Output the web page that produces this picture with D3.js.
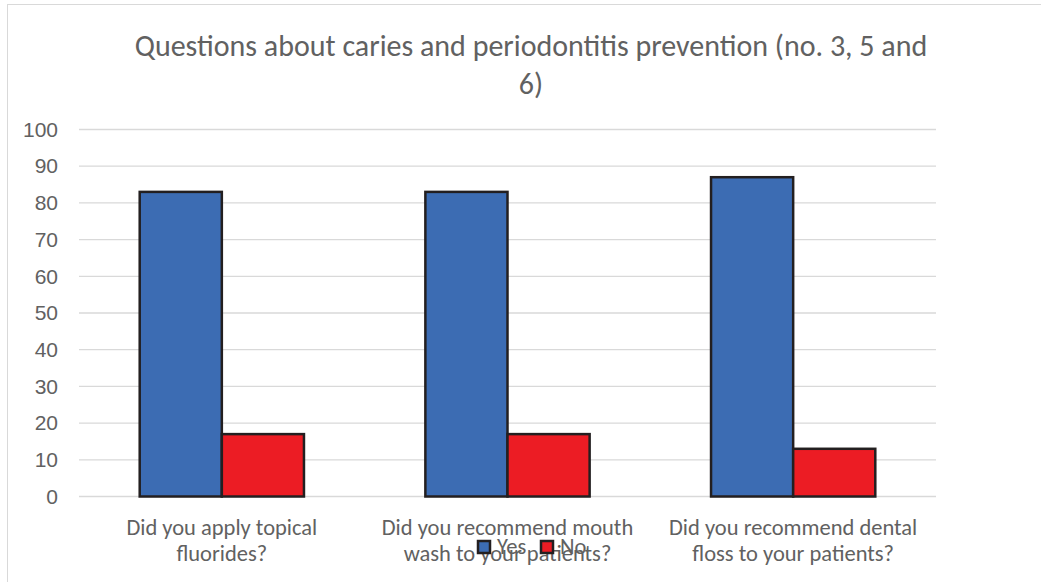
<!DOCTYPE html>
<html>
<head>
<meta charset="utf-8">
<script src="https://cdn.jsdelivr.net/npm/d3@7"></script>
<style>
  body { margin: 0; background: #fff; }
  svg { display: block; font-family: Carlito, Calibri, "Open Sans", sans-serif; }
</style>
</head>
<body>
<svg width="1041" height="582"></svg>
<script>
const categories = [
  ["Did you apply topical", "fluorides?"],
  ["Did you recommend mouth", "wash to your patients?"],
  ["Did you recommend dental", "floss to your patients?"]
];
const seriesNames = ["Yes", "No"];
const yesValues = [83, 83, 87];
const noValues = [17, 17, 13];
const yTicks = [0, 10, 20, 30, 40, 50, 60, 70, 80, 90, 100];
const titleLines = ["Questions about caries and periodontitis prevention (no. 3, 5 and", "6)"];

const colors = { Yes: "#3c6cb3", No: "#ec1c24" };
const textColor = "#616161";

const svg = d3.select("svg");
const width = +svg.attr("width");
const height = +svg.attr("height");

const margin = { top: 129.5, right: 105, bottom: 85.5, left: 79 };

// chart area border (right and bottom edges run off the picture)
svg.append("rect")
  .attr("x", 7.5).attr("y", 4.5)
  .attr("width", 1100).attr("height", 600)
  .attr("fill", "none")
  .attr("stroke", "#d9d9d9");

svg.append("text")
  .attr("text-anchor", "middle")
  .attr("fill", textColor)
  .attr("font-size", 30)
  .selectAll("tspan")
  .data(titleLines)
  .join("tspan")
    .attr("x", 531)
    .attr("y", (d, i) => 56 + i * 38)
    .text(d => d);

const x0 = d3.scaleBand()
  .domain(d3.range(categories.length))
  .range([margin.left, width - margin.right])
  .paddingInner(0.425)
  .paddingOuter(0.2125);

const x1 = d3.scaleBand()
  .domain(seriesNames)
  .range([0, x0.bandwidth()]);

const y = d3.scaleLinear()
  .domain([0, 100])
  .range([height - margin.bottom, margin.top]);

// gridlines
svg.append("g")
  .selectAll("line")
  .data(yTicks)
  .join("line")
    .attr("x1", margin.left)
    .attr("x2", width - margin.right)
    .attr("y1", d => y(d))
    .attr("y2", d => y(d))
    .attr("stroke", "#d9d9d9")
    .attr("stroke-width", 1.3);

const yAxis = svg.append("g")
  .attr("transform", `translate(${margin.left},0)`)
  .call(d3.axisLeft(y).tickValues(yTicks).tickSize(0).tickPadding(21));
yAxis.select(".domain").remove();
yAxis.selectAll("text")
  .attr("fill", textColor)
  .attr("font-size", 21)
  .attr("font-family", null);

const rows = categories.map((c, i) => ({ i, Yes: yesValues[i], No: noValues[i] }));

const groups = svg.append("g")
  .selectAll("g")
  .data(rows)
  .join("g")
    .attr("transform", d => `translate(${x0(d.i)},0)`);

groups.selectAll("rect")
  .data(d => seriesNames.map(k => ({ key: k, value: d[k] })))
  .join("rect")
    .attr("x", d => x1(d.key))
    .attr("y", d => y(d.value))
    .attr("width", x1.bandwidth())
    .attr("height", d => y(0) - y(d.value))
    .attr("fill", d => colors[d.key])
    .attr("stroke", "#231f20")
    .attr("stroke-width", 2.5);

// category labels
const catLabels = svg.append("g")
  .selectAll("text")
  .data(categories)
  .join("text")
    .attr("text-anchor", "middle")
    .attr("fill", textColor)
    .attr("font-size", 22.5);
catLabels.selectAll("tspan")
  .data((d, i) => d.map(line => ({ line, i })))
  .join("tspan")
    .attr("x", d => x0(d.i) + x0.bandwidth() / 2)
    .attr("y", (d, j) => 535 + j * 26)
    .text(d => d.line);

// legend (overlaps the middle label, as in the original)
const legend = svg.append("g")
  .attr("transform", "translate(478,541)");
const item = legend.selectAll("g")
  .data(seriesNames)
  .join("g")
    .attr("transform", (d, i) => `translate(${i * 63},0)`);
item.append("rect")
  .attr("width", 12).attr("height", 12)
  .attr("fill", d => colors[d])
  .attr("stroke", "#231f20")
  .attr("stroke-width", 2.5);
item.append("text")
  .attr("x", 19).attr("y", 13)
  .attr("fill", textColor)
  .attr("font-size", 22.5)
  .text(d => d);
</script>
</body>
</html>
